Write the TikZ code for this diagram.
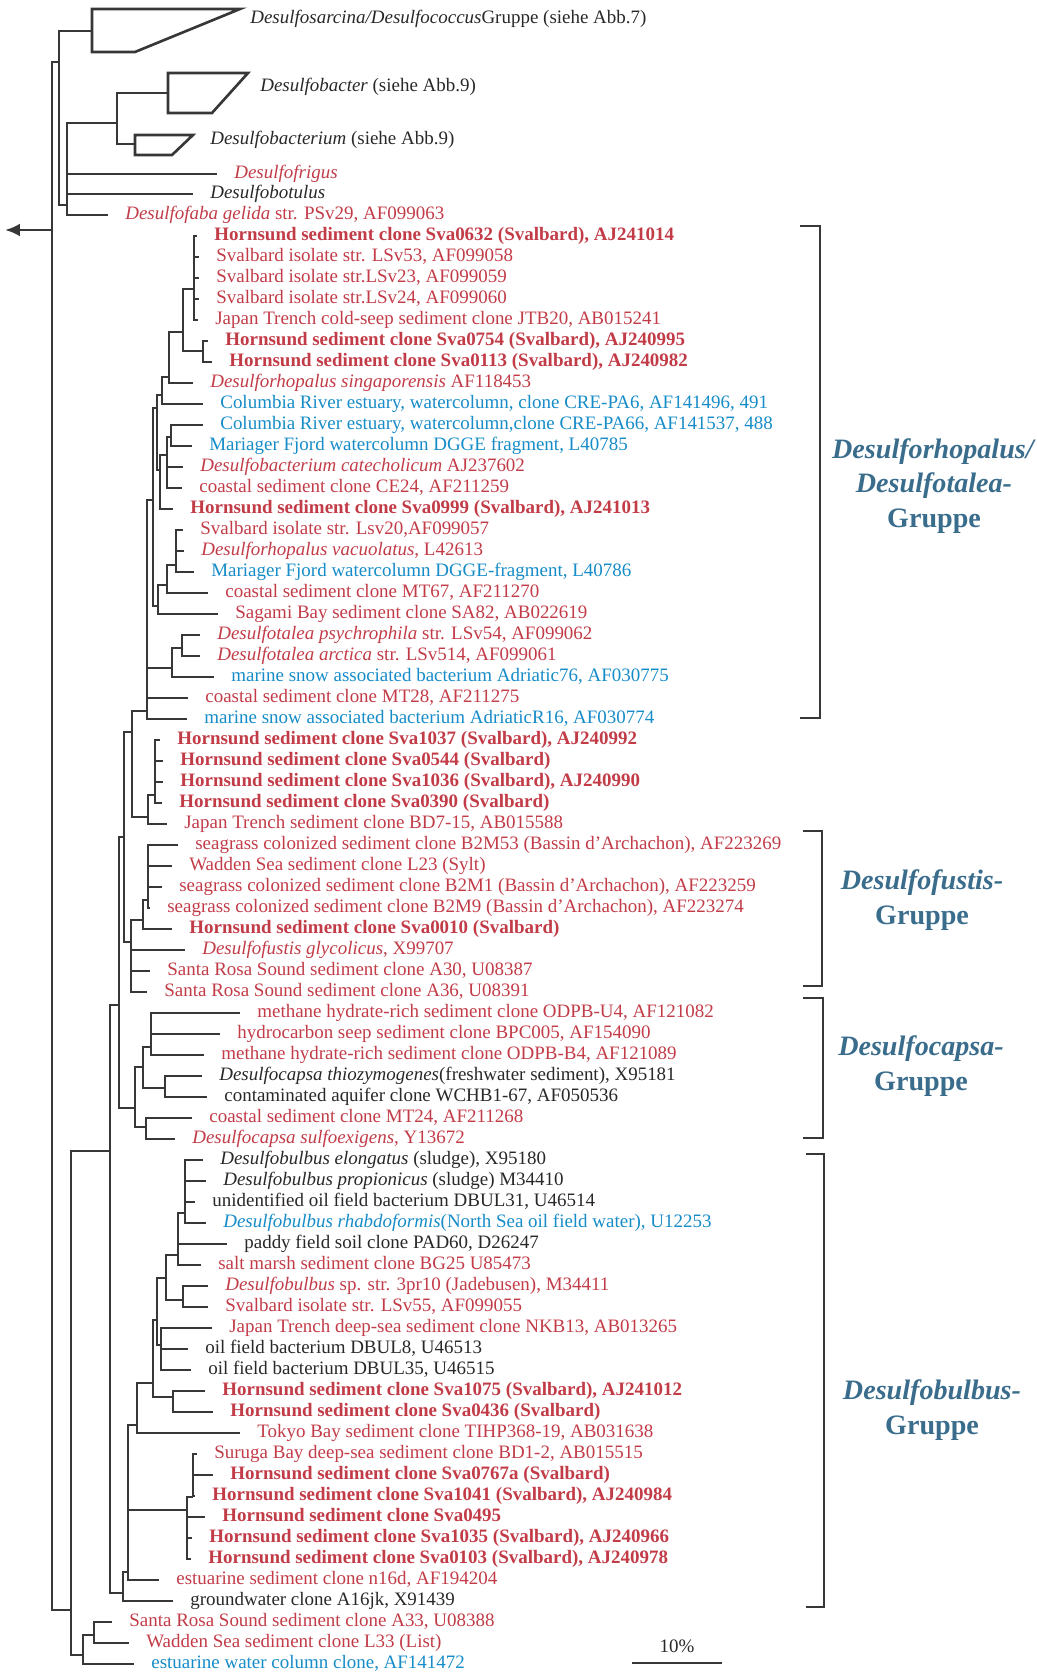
\documentclass[tikz,border=0pt]{standalone}
\usepackage{fontspec}
\setmainfont{Liberation Serif}
\usetikzlibrary{arrows.meta}

\definecolor{leafred}{RGB}{194,60,72}
\definecolor{leafblue}{RGB}{22,140,200}
\definecolor{leafdark}{RGB}{40,40,40}
\definecolor{treegray}{RGB}{55,55,55}
\definecolor{groupblue}{RGB}{58,108,140}

\begin{document}
\begin{tikzpicture}[
        x=0.02cm, y=-0.02cm,
        br/.style={
            draw=treegray,
            line width=1.5pt,
        },
        leaf/.style={
            anchor=west,
            inner xsep=0.34cm,
            inner ysep=0pt,
            text height=1.5ex,
            text depth=0.3ex,
            font=\fontsize{10.8}{13}\selectfont,
        },
        redleaf/.style={leaf, text=leafred},
        boldleaf/.style={leaf, text=leafred, font=\fontsize{10.8}{13}\selectfont\bfseries},
        blueleaf/.style={leaf, text=leafblue},
        darkleaf/.style={leaf, text=leafdark},
        clade/.style={
            anchor=west,
            inner sep=0pt,
            text=leafdark,
            font=\fontsize{10.8}{13}\selectfont,
        },
        group/.style={
            text=groupblue,
            align=center,
            font=\fontsize{16}{19.5}\selectfont\bfseries,
        }
    ]

    \useasboundingbox (0,0) rectangle (1036,1675);

    % collapsed groups
    \coordinate (sarc) at (92,31);
    \draw[br] (92,9) -- (240,9) -- (135,52) -- (92,52) -- cycle;
    \node[clade] (sarcL) at (250,19) {\textit{Desulfosarcina/Desulfococcus}Gruppe (siehe Abb.7)};
    \coordinate (bact) at (168,93);
    \draw[br] (168,73) -- (248,73) -- (212,113) -- (168,113) -- cycle;
    \node[clade] (bactL) at (260,87) {\textit{Desulfobacter} (siehe Abb.9)};
    \coordinate (bacm) at (135,144);
    \draw[br] (135,135) -- (193,135) -- (172,155) -- (135,155) -- cycle;
    \node[clade] (bacmL) at (210,140) {\textit{Desulfobacterium} (siehe Abb.9)};

    % inner nodes
    \coordinate (root) at (52,230);
    \coordinate (outg) at (5,230);
    \coordinate (nA) at (59,62);
    \coordinate (nB) at (67,205);
    \coordinate (nC) at (117,123);
    \coordinate (nD) at (194,289);
    \coordinate (nE) at (183,332);
    \coordinate (nF) at (203,351);
    \coordinate (nG) at (169,377);
    \coordinate (nH) at (162,395);
    \coordinate (nI) at (157,408);
    \coordinate (nJ) at (171,437);
    \coordinate (nK) at (167,455);
    \coordinate (nL) at (160,470);
    \coordinate (nV) at (153,500);
    \coordinate (nN) at (176,565);
    \coordinate (nO) at (167,585);
    \coordinate (nP) at (158,606);
    \coordinate (nR) at (182,648);
    \coordinate (nQ) at (172,668);
    \coordinate (nRh) at (147,711);
    \coordinate (nZ) at (132,732);
    \coordinate (nX) at (155,795);
    \coordinate (nY) at (148,817);
    \coordinate (nAE) at (124,837);
    \coordinate (nAB) at (148,900);
    \coordinate (nAC) at (143,920);
    \coordinate (nAD) at (131,942);
    \coordinate (nAF) at (119,1005);
    \coordinate (nAK) at (151,1047);
    \coordinate (nAI) at (143,1067);
    \coordinate (nAL) at (165,1088);
    \coordinate (nAH) at (135,1108);
    \coordinate (nAJ) at (146,1127);
    \coordinate (nAG) at (110,1151);
    \coordinate (nBA) at (185,1213);
    \coordinate (nBB) at (178,1255);
    \coordinate (nBD) at (166,1278);
    \coordinate (nBC) at (183,1300);
    \coordinate (nBE) at (157,1320);
    \coordinate (nBF) at (161,1345);
    \coordinate (nBG) at (153,1383);
    \coordinate (nAP) at (173,1397);
    \coordinate (nAO) at (137,1425);
    \coordinate (nAR) at (193,1497);
    \coordinate (nAQ) at (187,1510);
    \coordinate (nAT) at (128,1572);
    \coordinate (nAS) at (123,1593);
    \coordinate (nAM) at (71,1610);
    \coordinate (nAV) at (94,1635);
    \coordinate (nAU) at (83,1655);

    % leaves
    \node[redleaf] (frig) at (217,174) {\textit{Desulfofrigus}};
    \node[darkleaf] (botu) at (193,194) {\textit{Desulfobotulus}};
    \node[redleaf] (faba) at (108,215) {\textit{Desulfofaba gelida} str. PSv29, AF099063};
    \node[boldleaf] (l0) at (197,236) {Hornsund sediment clone Sva0632 (Svalbard), AJ241014};
    \node[redleaf] (l1) at (199,257) {Svalbard isolate str. LSv53, AF099058};
    \node[redleaf] (l2) at (199,278) {Svalbard isolate str.LSv23, AF099059};
    \node[redleaf] (l3) at (199,299) {Svalbard isolate str.LSv24, AF099060};
    \node[redleaf] (l4) at (198,320) {Japan Trench cold-seep sediment clone JTB20, AB015241};
    \node[boldleaf] (l5) at (208,341) {Hornsund sediment clone Sva0754 (Svalbard), AJ240995};
    \node[boldleaf] (l6) at (212,362) {Hornsund sediment clone Sva0113 (Svalbard), AJ240982};
    \node[redleaf] (l7) at (193,383) {\textit{Desulforhopalus singaporensis} AF118453};
    \node[blueleaf] (l8) at (203,404) {Columbia River estuary, watercolumn, clone CRE-PA6, AF141496, 491};
    \node[blueleaf] (l9) at (203,425) {Columbia River estuary, watercolumn,clone CRE-PA66, AF141537, 488};
    \node[blueleaf] (l10) at (192,446) {Mariager Fjord watercolumn DGGE fragment, L40785};
    \node[redleaf] (l11) at (183,467) {\textit{Desulfobacterium catecholicum} AJ237602};
    \node[redleaf] (l12) at (182,488) {coastal sediment clone CE24, AF211259};
    \node[boldleaf] (l13) at (173,509) {Hornsund sediment clone Sva0999 (Svalbard), AJ241013};
    \node[redleaf] (l14) at (183,530) {Svalbard isolate str. Lsv20,AF099057};
    \node[redleaf] (l15) at (184,551) {\textit{Desulforhopalus vacuolatus}, L42613};
    \node[blueleaf] (l16) at (194,572) {Mariager Fjord watercolumn DGGE-fragment, L40786};
    \node[redleaf] (l17) at (208,593) {coastal sediment clone MT67, AF211270};
    \node[redleaf] (l18) at (218,614) {Sagami Bay sediment clone SA82, AB022619};
    \node[redleaf] (l19) at (200,635) {\textit{Desulfotalea psychrophila} str. LSv54, AF099062};
    \node[redleaf] (l20) at (200,656) {\textit{Desulfotalea arctica} str. LSv514, AF099061};
    \node[blueleaf] (l21) at (214,677) {marine snow associated bacterium Adriatic76, AF030775};
    \node[redleaf] (l22) at (188,698) {coastal sediment clone MT28, AF211275};
    \node[blueleaf] (l23) at (187,719) {marine snow associated bacterium AdriaticR16, AF030774};
    \node[boldleaf] (l24) at (160,740) {Hornsund sediment clone Sva1037 (Svalbard), AJ240992};
    \node[boldleaf] (l25) at (163,761) {Hornsund sediment clone Sva0544 (Svalbard)};
    \node[boldleaf] (l26) at (163,782) {Hornsund sediment clone Sva1036 (Svalbard), AJ240990};
    \node[boldleaf] (l27) at (162,803) {Hornsund sediment clone Sva0390 (Svalbard)};
    \node[redleaf] (l28) at (167,824) {Japan Trench sediment clone BD7-15, AB015588};
    \node[redleaf] (l29) at (178,845) {seagrass colonized sediment clone B2M53 (Bassin d'Archachon), AF223269};
    \node[redleaf] (l30) at (172,866) {Wadden Sea sediment clone L23 (Sylt)};
    \node[redleaf] (l31) at (162,887) {seagrass colonized sediment clone B2M1 (Bassin d'Archachon), AF223259};
    \node[redleaf] (l32) at (150,908) {seagrass colonized sediment clone B2M9 (Bassin d'Archachon), AF223274};
    \node[boldleaf] (l33) at (172,929) {Hornsund sediment clone Sva0010 (Svalbard)};
    \node[redleaf] (l34) at (185,950) {\textit{Desulfofustis glycolicus}, X99707};
    \node[redleaf] (l35) at (150,971) {Santa Rosa Sound sediment clone A30, U08387};
    \node[redleaf] (l36) at (147,992) {Santa Rosa Sound sediment clone A36, U08391};
    \node[redleaf] (l37) at (240,1013) {methane hydrate-rich sediment clone ODPB-U4, AF121082};
    \node[redleaf] (l38) at (220,1034) {hydrocarbon seep sediment clone BPC005, AF154090};
    \node[redleaf] (l39) at (204,1055) {methane hydrate-rich sediment clone ODPB-B4, AF121089};
    \node[darkleaf] (l40) at (202,1076) {\textit{Desulfocapsa thiozymogenes}(freshwater sediment), X95181};
    \node[darkleaf] (l41) at (207,1097) {contaminated aquifer clone WCHB1-67, AF050536};
    \node[redleaf] (l42) at (192,1118) {coastal sediment clone MT24, AF211268};
    \node[redleaf] (l43) at (175,1139) {\textit{Desulfocapsa sulfoexigens}, Y13672};
    \node[darkleaf] (l44) at (203,1160) {\textit{Desulfobulbus elongatus} (sludge), X95180};
    \node[darkleaf] (l45) at (206,1181) {\textit{Desulfobulbus propionicus} (sludge) M34410};
    \node[darkleaf] (l46) at (195,1202) {unidentified oil field bacterium DBUL31, U46514};
    \node[blueleaf] (l47) at (206,1223) {\textit{Desulfobulbus rhabdoformis}(North Sea oil field water), U12253};
    \node[darkleaf] (l48) at (227,1244) {paddy field soil clone PAD60, D26247};
    \node[redleaf] (l49) at (201,1265) {salt marsh sediment clone BG25 U85473};
    \node[redleaf] (l50) at (208,1286) {\textit{Desulfobulbus} sp. str. 3pr10 (Jadebusen), M34411};
    \node[redleaf] (l51) at (208,1307) {Svalbard isolate str. LSv55, AF099055};
    \node[redleaf] (l52) at (212,1328) {Japan Trench deep-sea sediment clone NKB13, AB013265};
    \node[darkleaf] (l53) at (188,1349) {oil field bacterium DBUL8, U46513};
    \node[darkleaf] (l54) at (191,1370) {oil field bacterium DBUL35, U46515};
    \node[boldleaf] (l55) at (205,1391) {Hornsund sediment clone Sva1075 (Svalbard), AJ241012};
    \node[boldleaf] (l56) at (213,1412) {Hornsund sediment clone Sva0436 (Svalbard)};
    \node[redleaf] (l57) at (240,1433) {Tokyo Bay sediment clone TIHP368-19, AB031638};
    \node[redleaf] (l58) at (197,1454) {Suruga Bay deep-sea sediment clone BD1-2, AB015515};
    \node[boldleaf] (l59) at (213,1475) {Hornsund sediment clone Sva0767a (Svalbard)};
    \node[boldleaf] (l60) at (195,1496) {Hornsund sediment clone Sva1041 (Svalbard), AJ240984};
    \node[boldleaf] (l61) at (205,1517) {Hornsund sediment clone Sva0495};
    \node[boldleaf] (l62) at (192,1538) {Hornsund sediment clone Sva1035 (Svalbard), AJ240966};
    \node[boldleaf] (l63) at (191,1559) {Hornsund sediment clone Sva0103 (Svalbard), AJ240978};
    \node[redleaf] (l64) at (159,1580) {estuarine sediment clone n16d, AF194204};
    \node[darkleaf] (l65) at (173,1601) {groundwater clone A16jk, X91439};
    \node[redleaf] (l66) at (112,1622) {Santa Rosa Sound sediment clone A33, U08388};
    \node[redleaf] (l67) at (129,1643) {Wadden Sea sediment clone L33 (List)};
    \node[blueleaf] (l68) at (134,1664) {estuarine water column clone, AF141472};

    % branches
    \draw[br, -{Latex[length=0.3cm,width=0.26cm]}] (root) -- (outg);
    \draw[br] (root) |- (nA) (root) |- (nAM);
    \draw[br] (nA) |- (sarc) (nA) |- (nB);
    \draw[br] (nB) |- (nC) (nB) |- (frig) (nB) |- (botu) (nB) |- (faba);
    \draw[br] (nC) |- (bact) (nC) |- (bacm);
    \draw[br] (nD) |- (l0) (nD) |- (l1) (nD) |- (l2) (nD) |- (l3) (nD) |- (l4);
    \draw[br] (nF) |- (l5) (nF) |- (l6);
    \draw[br] (nE) |- (nD) (nE) |- (nF);
    \draw[br] (nG) |- (nE) (nG) |- (l7);
    \draw[br] (nH) |- (nG) (nH) |- (l8);
    \draw[br] (nJ) |- (l9) (nJ) |- (l10);
    \draw[br] (nK) |- (nJ) (nK) |- (l11) (nK) |- (l12);
    \draw[br] (nL) |- (nK) (nL) |- (l13);
    \draw[br] (nI) |- (nH) (nI) |- (nL);
    \draw[br] (nN) |- (l14) (nN) |- (l15) (nN) |- (l16);
    \draw[br] (nO) |- (nN) (nO) |- (l17);
    \draw[br] (nP) |- (nO) (nP) |- (l18);
    \draw[br] (nV) |- (nI) (nV) |- (nP);
    \draw[br] (nR) |- (l19) (nR) |- (l20);
    \draw[br] (nQ) |- (nR) (nQ) |- (l21);
    \draw[br] (nRh) |- (nV) (nRh) |- (nQ) (nRh) |- (l22) (nRh) |- (l23);
    \draw[br] (nX) |- (l24) (nX) |- (l25) (nX) |- (l26) (nX) |- (l27);
    \draw[br] (nY) |- (nX) (nY) |- (l28);
    \draw[br] (nZ) |- (nRh) (nZ) |- (nY);
    \draw[br] (nAB) |- (l29) (nAB) |- (l30) (nAB) |- (l31) (nAB) |- (l32);
    \draw[br] (nAC) |- (nAB) (nAC) |- (l33);
    \draw[br] (nAD) |- (nAC) (nAD) |- (l34) (nAD) |- (l35) (nAD) |- (l36);
    \draw[br] (nAE) |- (nZ) (nAE) |- (nAD);
    \draw[br] (nAK) |- (l37) (nAK) |- (l38) (nAK) |- (l39);
    \draw[br] (nAL) |- (l40) (nAL) |- (l41);
    \draw[br] (nAI) |- (nAK) (nAI) |- (nAL);
    \draw[br] (nAJ) |- (l42) (nAJ) |- (l43);
    \draw[br] (nAH) |- (nAI) (nAH) |- (nAJ);
    \draw[br] (nAF) |- (nAE) (nAF) |- (nAH);
    \draw[br] (nBA) |- (l44) (nBA) |- (l45) (nBA) |- (l46) (nBA) |- (l47);
    \draw[br] (nBB) |- (nBA) (nBB) |- (l48) (nBB) |- (l49);
    \draw[br] (nBC) |- (l50) (nBC) |- (l51);
    \draw[br] (nBD) |- (nBB) (nBD) |- (nBC);
    \draw[br] (nBF) |- (l52) (nBF) |- (l53) (nBF) |- (l54);
    \draw[br] (nBE) |- (nBD) (nBE) |- (nBF);
    \draw[br] (nAP) |- (l55) (nAP) |- (l56);
    \draw[br] (nBG) |- (nBE) (nBG) |- (nAP);
    \draw[br] (nAO) |- (nBG) (nAO) |- (l57);
    \draw[br] (nAR) |- (l58) (nAR) |- (l59) (nAR) |- (l60);
    \draw[br] (nAQ) |- (nAR) (nAQ) |- (l61) (nAQ) |- (l62) (nAQ) |- (l63);
    \draw[br] (nAT) |- (nAO) (nAT) |- (nAQ) (nAT) |- (l64);
    \draw[br] (nAS) |- (nAT) (nAS) |- (l65);
    \draw[br] (nAG) |- (nAF) (nAG) |- (nAS);
    \draw[br] (nAV) |- (l66) (nAV) |- (l67);
    \draw[br] (nAU) |- (nAV) (nAU) |- (l68);
    \draw[br] (nAM) |- (nAG) (nAM) |- (nAU);

    % group brackets
    \coordinate (k1a) at (800,226);
    \coordinate (k1b) at (800,718);
    \draw[br] (k1a) -- ++(20,0) |- (k1b);
    \node[group] (g1) at (934,486) {\textit{Desulforhopalus/}\\\textit{Desulfotalea-}\\Gruppe};
    \coordinate (k2a) at (803,831);
    \coordinate (k2b) at (803,986);
    \draw[br] (k2a) -- ++(19,0) |- (k2b);
    \node[group] (g2) at (922,900) {\textit{Desulfofustis-}\\Gruppe};
    \coordinate (k3a) at (803,998);
    \coordinate (k3b) at (803,1138);
    \draw[br] (k3a) -- ++(20,0) |- (k3b);
    \node[group] (g3) at (921,1066) {\textit{Desulfocapsa-}\\Gruppe};
    \coordinate (k4a) at (806,1154);
    \coordinate (k4b) at (806,1607);
    \draw[br] (k4a) -- ++(18,0) |- (k4b);
    \node[group] (g4) at (932,1410) {\textit{Desulfobulbus-}\\Gruppe};

    % scale bar
    \coordinate (sbl) at (632,1663);
    \coordinate (sbr) at (722,1663);
    \draw[br] (sbl) -- (sbr);
    \node[clade, anchor=center] (sbt) at (677,1646) {10\%};

\end{tikzpicture}
\end{document}
